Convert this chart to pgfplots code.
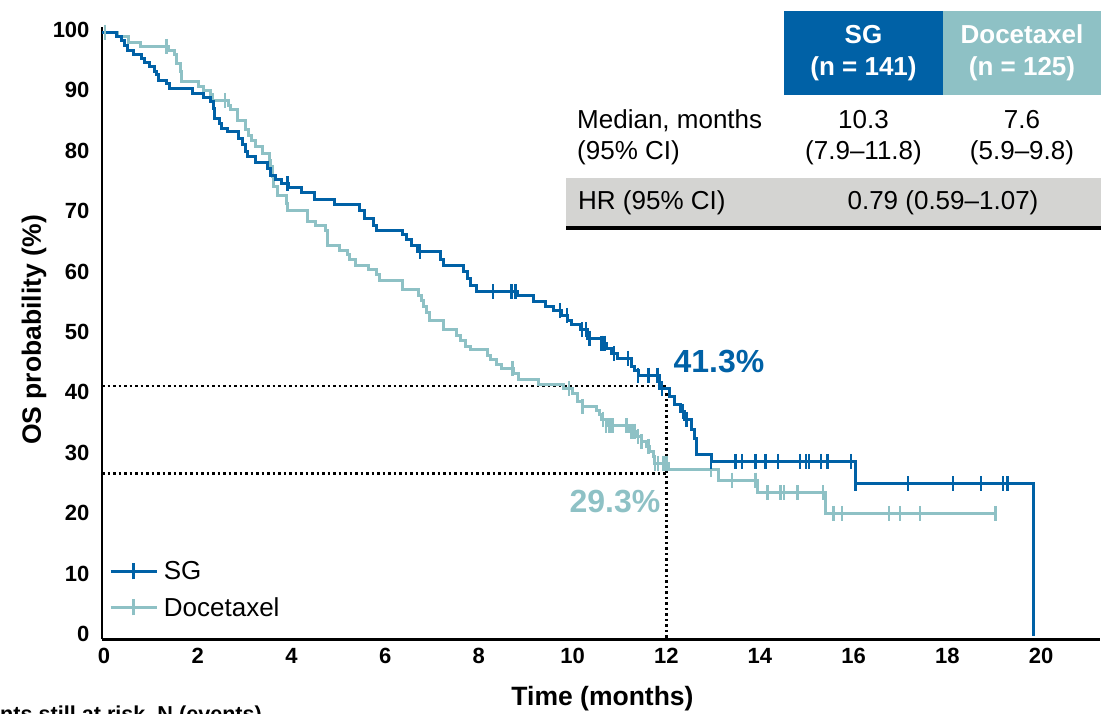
\documentclass[border=0pt]{standalone}
\usepackage{fontspec}
\setmainfont{Liberation Sans}
\usepackage{pgfplots}
\pgfplotsset{compat=1.18}
\definecolor{sgblue}{RGB}{0,97,166}
\definecolor{docteal}{RGB}{142,193,197}
\definecolor{hrgray}{RGB}{212,212,210}
\begin{document}
\begin{tikzpicture}
\useasboundingbox (0pt,0pt) rectangle (1102pt,714pt);
\begin{axis}[
  at={(102pt,74.5pt)}, anchor=south west,
  scale only axis, width=998pt, height=612.5pt,
  xmin=0, xmax=21.3, ymin=-0.58, ymax=100.83,
  axis x line=bottom, axis y line=left,
  axis line style={line width=2.5pt, -},
  xtick={0,2,...,20}, ytick={0,10,...,100},
  major tick length=0pt,
  /pgf/number format/assume math mode=true,
  ticklabel style={font=\bfseries\fontsize{22}{24}\selectfont},
  xticklabel style={yshift=-5pt, xshift=2pt},
  yticklabel style={xshift=-9pt, yshift=2pt},
  clip=false,
  legend cell align=left,
  legend style={draw=none, fill=none, at={(rel axis cs:0.004,0.134)}, anchor=north west,
    font=\fontsize{26}{29}\selectfont, row sep=12pt},
]
% reference lines
\addplot[forget plot, black, line width=2.5pt, dash pattern=on 2.5pt off 3pt] coordinates {(0,41.4) (12.05,41.4) (12.05,-0.58)};
\addplot[forget plot, black, line width=2.5pt, dash pattern=on 2.5pt off 3pt] coordinates {(0,26.9) (12.05,26.9)};
% Docetaxel
\addplot[forget plot, const plot, docteal, line width=3pt] coordinates {
(0,100)(0.33,99.3)(0.56,98.3)(0.83,97.6)(1.42,96.9)(1.55,96.2)(1.60,94.8)(1.67,93.4)(1.70,91.8)(2.06,91.0)(2.17,90.3)(2.31,89.6)(2.35,88.7)(2.70,87.9)(2.74,87.1)(2.90,85.4)(3.06,83.8)(3.13,82.9)(3.20,82.1)(3.28,81.0)(3.43,79.9)(3.57,78.8)(3.60,77.7)(3.64,76.1)(3.67,74.4)(3.74,72.9)(3.94,71.6)(3.96,70.4)(4.39,68.6)(4.56,68.0)(4.77,67.1)(4.82,64.6)(5.07,63.8)(5.25,63.1)(5.28,62.3)(5.41,61.3)(5.68,60.6)(5.86,59.8)(5.93,58.9)(6.42,57.4)(6.75,56.3)(6.82,55.6)(6.86,54.6)(6.92,53.5)(6.98,52.3)(7.28,50.7)(7.57,49.8)(7.65,48.9)(7.75,48.0)(7.86,47.5)(8.22,46.5)(8.29,45.7)(8.43,44.9)(8.53,44.3)(8.79,43.4)(8.88,42.5)(9.32,41.6)(9.85,41.0)(10.04,40.1)(10.15,38.8)(10.26,38.0)(10.55,37.4)(10.62,36.6)(10.67,35.9)(10.76,34.8)(11.26,33.9)(11.40,33.0)(11.51,32.2)(11.62,31.4)(11.69,30.5)(11.76,29.7)(11.80,28.6)(12.09,27.5)(13.16,25.8)(13.98,23.7)(15.44,20.3)(19.07,20.3)};
\addplot[forget plot, only marks, mark=|, mark size=7.5pt, docteal, mark options={line width=2.5pt, docteal}] coordinates {
(0.06,100)(1.38,97.6)(2.63,88.7)(8.76,44.3)(9.97,41.0)(10.26,38.0)(10.69,35.9)(10.76,34.8)(10.83,34.8)(10.90,34.8)(11.19,34.8)(11.30,33.9)(11.37,33.9)(11.44,33.0)(11.51,32.2)(11.66,31.4)(11.80,28.6)(11.87,28.6)(11.98,28.6)(12.05,28.6)(13.00,27.5)(13.45,25.8)(13.95,25.8)(14.20,23.7)(14.48,23.7)(14.56,23.7)(14.84,23.7)(15.39,23.7)(15.61,20.3)(15.79,20.3)(16.80,20.3)(17.03,20.3)(17.46,20.3)(19.07,20.3)};
% SG
\addplot[forget plot, const plot, sgblue, line width=3pt] coordinates {
(0,100)(0.31,99.3)(0.41,98.6)(0.49,97.8)(0.54,97.0)(0.67,96.3)(0.84,95.6)(0.91,94.9)(1.02,94.3)(1.13,93.4)(1.17,92.9)(1.20,92.0)(1.38,91.4)(1.45,90.6)(1.93,89.9)(2.17,89.1)(2.31,88.5)(2.38,87.4)(2.40,85.7)(2.50,84.9)(2.56,84.0)(2.67,83.5)(2.92,82.4)(2.99,81.3)(3.06,80.2)(3.10,79.4)(3.28,78.4)(3.53,77.4)(3.60,76.3)(3.71,75.5)(3.84,74.9)(3.98,74.2)(4.25,73.4)(4.54,72.2)(4.97,71.4)(5.49,70.5)(5.60,69.1)(5.79,68.0)(5.85,67.1)(6.42,66.4)(6.50,65.6)(6.61,64.7)(6.74,63.6)(7.22,62.3)(7.29,61.3)(7.72,60.3)(7.79,59.2)(7.86,58.1)(7.99,57.0)(8.86,56.3)(9.20,55.4)(9.47,54.6)(9.64,53.9)(9.80,53.1)(9.94,52.3)(10.01,51.5)(10.22,50.7)(10.37,49.3)(10.66,48.5)(10.76,47.6)(10.87,46.8)(11.01,46.0)(11.30,44.6)(11.37,43.9)(11.44,43.2)(11.89,41.0)(12.12,39.6)(12.22,38.3)(12.34,37.2)(12.44,35.9)(12.59,34.2)(12.64,32.7)(12.68,30.1)(13.00,28.9)(16.08,25.2)(19.87,0)};
\addplot[forget plot, only marks, mark=|, mark size=7.5pt, sgblue, mark options={line width=2.5pt, sgblue}] coordinates {
(3.96,74.9)(6.79,63.6)(8.35,57.0)(8.74,57.0)(8.83,57.0)(9.78,53.9)(9.92,53.1)(10.24,50.7)(10.33,50.7)(10.40,49.3)(10.66,48.5)(10.72,48.5)(10.93,46.8)(11.23,46.0)(11.44,43.2)(11.66,43.2)(11.86,43.2)(11.95,41.0)(12.40,37.2)(12.47,35.9)(13.00,28.9)(13.52,28.9)(13.66,28.9)(13.95,28.9)(14.16,28.9)(14.43,28.9)(14.90,28.9)(15.03,28.9)(15.09,28.9)(15.34,28.9)(15.48,28.9)(15.99,28.9)(16.08,25.2)(17.20,25.2)(18.16,25.2)(18.76,25.2)(19.23,25.2)(19.33,25.2)};
% legend
\addlegendimage{legend image code/.code={\draw[sgblue,line width=3pt] (0pt,0pt) -- (46pt,0pt); \draw[sgblue,line width=3pt] (23pt,-8pt) -- (23pt,8pt); \path (51pt,0pt);}}
\addlegendentry{SG}
\addlegendimage{legend image code/.code={\draw[docteal,line width=3pt] (0pt,0pt) -- (46pt,0pt); \draw[docteal,line width=3pt] (23pt,-8pt) -- (23pt,8pt); \path (51pt,0pt);}}
\addlegendentry{Docetaxel}
\end{axis}
% axis titles
\node[rotate=90, font=\bfseries\fontsize{26.5}{30}\selectfont] at (34pt,384pt) {OS probability (\%)};
\node[anchor=base, font=\bfseries\fontsize{26.5}{30}\selectfont, inner sep=0pt] at (602.5pt,8pt) {Time (months)};
\node[anchor=base west, font=\bfseries\fontsize{21.6}{24}\selectfont, inner sep=0pt] at (-51.6pt,-7.5pt) {Patients still at risk, N (events)};
% annotations
\node[font=\bfseries\fontsize{32}{36}\selectfont, text=sgblue] at (719pt,352pt) {41.3\%};
\node[font=\bfseries\fontsize{32}{36}\selectfont, text=docteal] at (615pt,212pt) {29.3\%};
% table
\fill[sgblue] (784pt,703pt) rectangle (943pt,619pt);
\fill[docteal] (943pt,703pt) rectangle (1101pt,619pt);
\node[text=white, font=\bfseries\fontsize{26}{32}\selectfont, align=center] at (863.5pt,661pt) {SG\\(n = 141)};
\node[text=white, font=\bfseries\fontsize{26}{32}\selectfont, align=center] at (1022pt,661pt) {Docetaxel\\(n = 125)};
\node[anchor=west, inner sep=0pt, align=left, font=\fontsize{26}{31}\selectfont] at (577pt,576.5pt) {Median, months\\(95\% CI)};
\node[align=center, font=\fontsize{26}{31}\selectfont] at (863.5pt,576.5pt) {10.3\\(7.9--11.8)};
\node[align=center, font=\fontsize{26}{31}\selectfont] at (1022pt,576.5pt) {7.6\\(5.9--9.8)};
\fill[hrgray] (566pt,536pt) rectangle (1101pt,487pt);
\draw[line width=4pt] (566pt,485.5pt) -- (1101pt,485.5pt);
\node[anchor=west, inner sep=0pt, font=\fontsize{26}{31}\selectfont] at (578pt,511pt) {HR (95\% CI)};
\node[font=\fontsize{26}{31}\selectfont] at (943pt,511pt) {0.79 (0.59--1.07)};
\end{tikzpicture}
\end{document}
